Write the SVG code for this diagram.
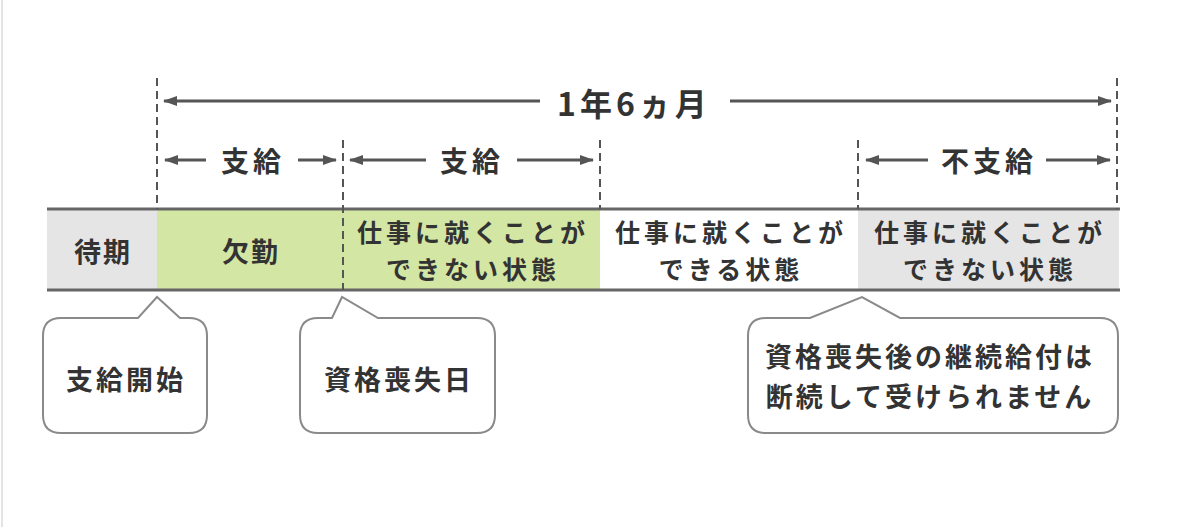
<svg xmlns="http://www.w3.org/2000/svg" width="1200" height="527" viewBox="0 0 1200 527">
  <defs>
    <marker id="ah" viewBox="0 0 14 10" refX="13" refY="5" markerWidth="14" markerHeight="10" markerUnits="userSpaceOnUse" orient="auto-start-reverse">
      <path d="M0,0 L14,5 L0,10 Z" fill="#555"/>
    </marker>
    <style>
      .t{font-family:"Noto Sans CJK JP","Noto Sans CJK SC",sans-serif;font-weight:bold;fill:#333;text-anchor:middle;dominant-baseline:central}
      .arr{stroke:#555;stroke-width:3;fill:none;marker-end:url(#ah)}
      .dash{stroke:#555;stroke-width:2;stroke-dasharray:8 5;fill:none}
      .bar{stroke:#666;stroke-width:3}
      .call{fill:#fff;stroke:#8a8a8a;stroke-width:2}
      .lab{font-size:27px;letter-spacing:2px}
      .lab2{font-size:25px;letter-spacing:4px}
      .cl{font-size:27px;letter-spacing:3px}
    </style>
  </defs>
  <rect width="1200" height="527" fill="#fff"/>
  <line x1="2" y1="0" x2="2" y2="527" stroke="#e4e4e4" stroke-width="2"/>

  <g id="segments">
    <rect x="47" y="209" width="110" height="81" fill="#e5e5e5"/>
    <rect x="157" y="209" width="443" height="81" fill="#d3e6a3"/>
    <rect x="858" y="209" width="261" height="81" fill="#e5e5e5"/>
    <line class="bar" x1="47" y1="209" x2="1120" y2="209"/>
    <line class="bar" x1="47" y1="290" x2="1120" y2="290"/>
  </g>

  <g id="connectors">
    <line class="dash" x1="157" y1="78" x2="157" y2="209"/>
    <line class="dash" x1="343" y1="140" x2="343" y2="290"/>
    <line class="dash" x1="600" y1="140" x2="600" y2="209"/>
    <line class="dash" x1="858" y1="140" x2="858" y2="209"/>
    <line class="dash" x1="1117" y1="78" x2="1117" y2="209"/>
    <line class="arr" x1="540" y1="101" x2="164" y2="101"/>
    <line class="arr" x1="730" y1="101" x2="1111" y2="101"/>
    <line class="arr" x1="206" y1="160" x2="165" y2="160"/>
    <line class="arr" x1="298" y1="160" x2="336" y2="160"/>
    <line class="arr" x1="426" y1="160" x2="350" y2="160"/>
    <line class="arr" x1="517" y1="160" x2="593" y2="160"/>
    <line class="arr" x1="928" y1="160" x2="866" y2="160"/>
    <line class="arr" x1="1046" y1="160" x2="1110" y2="160"/>
  </g>

  <g id="label-total">
    <text class="t" x="634" y="102" style="font-size:32px;letter-spacing:4px">1年6ヵ月</text>
  </g>
  <g id="label-pay1"><text class="t" x="253" y="160" style="font-size:28px;letter-spacing:4px">支給</text></g>
  <g id="label-pay2"><text class="t" x="472" y="160" style="font-size:28px;letter-spacing:4px">支給</text></g>
  <g id="label-nopay"><text class="t" x="989" y="160" style="font-size:28px;letter-spacing:4px">不支給</text></g>

  <g id="seg-wait"><text class="t lab" x="103" y="250">待期</text></g>
  <g id="seg-absent"><text class="t lab" x="251" y="250">欠勤</text></g>
  <g id="seg-unable1">
    <text class="t lab2" x="473" y="231">仕事に就くことが</text>
    <text class="t lab2" x="473" y="268">できない状態</text>
  </g>
  <g id="seg-able">
    <text class="t lab2" x="731" y="231">仕事に就くことが</text>
    <text class="t lab2" x="731" y="268">できる状態</text>
  </g>
  <g id="seg-unable2">
    <text class="t lab2" x="990" y="231">仕事に就くことが</text>
    <text class="t lab2" x="990" y="268">できない状態</text>
  </g>

  <g id="callout-start">
    <path class="call" d="M61,318 L138,318 L157,297 L180,318 L189,318 Q207,318 207,336 L207,415 Q207,433 189,433 L61,433 Q43,433 43,415 L43,336 Q43,318 61,318 Z"/>
    <text class="t cl" x="126" y="378">支給開始</text>
  </g>
  <g id="callout-loss">
    <path class="call" d="M318,318 L332,318 L342,297 L378,318 L477,318 Q495,318 495,336 L495,415 Q495,433 477,433 L318,433 Q300,433 300,415 L300,336 Q300,318 318,318 Z"/>
    <text class="t cl" x="399" y="378">資格喪失日</text>
  </g>
  <g id="callout-note">
    <path class="call" d="M766,318 L810,318 L862,297 L900,318 L1100,318 Q1118,318 1118,336 L1118,415 Q1118,433 1100,433 L766,433 Q748,433 748,415 L748,336 Q748,318 766,318 Z"/>
    <text class="t cl" x="930" y="355">資格喪失後の継続給付は</text>
    <text class="t cl" x="930" y="395">断続して受けられません</text>
  </g>
</svg>
